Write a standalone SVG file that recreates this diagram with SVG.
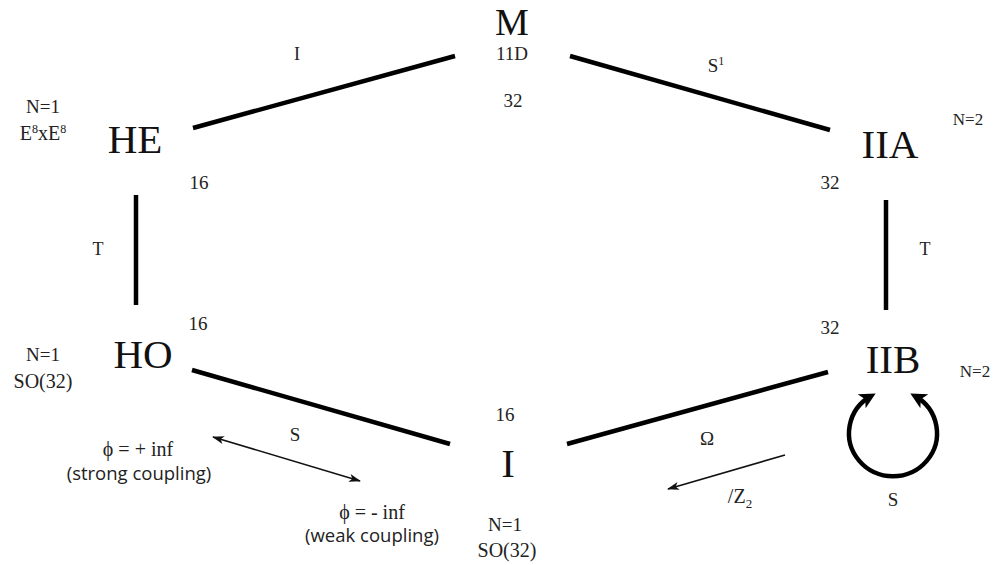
<svg xmlns="http://www.w3.org/2000/svg" width="993" height="565" viewBox="0 0 993 565">
<defs>
<style>
.big{font-family:"Liberation Serif","Times New Roman",serif;font-size:41px;fill:#111;text-anchor:middle}
.sm{font-family:"Liberation Serif","Times New Roman",serif;font-size:19px;fill:#222;text-anchor:middle}
.lab{font-family:"Liberation Serif","Times New Roman",serif;font-size:20px;fill:#222;text-anchor:middle}
.sans{font-family:"Open Sans","Liberation Sans",sans-serif;font-size:18.5px;font-weight:500;fill:#222;text-anchor:middle}
.edge{stroke:#000;stroke-width:4.5;fill:none}
.thin{stroke:#111;stroke-width:1.6;fill:none}
</style>
<marker id="ah" viewBox="0 0 12 8" refX="11" refY="4" markerWidth="12" markerHeight="8" markerUnits="userSpaceOnUse" orient="auto-start-reverse">
<path d="M0,0 L12,4 L0,8 L3,4 Z" fill="#111"/>
</marker>
<marker id="ahb" viewBox="0 0 12 12" refX="8" refY="6" markerWidth="16" markerHeight="16" markerUnits="userSpaceOnUse" orient="auto-start-reverse">
<path d="M0,0 L12,6 L0,12 L3,6 Z" fill="#000"/>
</marker>
</defs>
<g id="connectors">
<line class="edge" x1="193" y1="128" x2="455" y2="56"/>
<line class="edge" x1="570" y1="56" x2="830" y2="130"/>
<line class="edge" x1="136" y1="195" x2="136" y2="305"/>
<line class="edge" x1="886" y1="200" x2="886" y2="310"/>
<line class="edge" x1="192" y1="370" x2="450" y2="444"/>
<line class="edge" x1="567" y1="444" x2="828" y2="372"/>
<line class="thin" x1="213" y1="437" x2="360" y2="481" marker-start="url(#ah)" marker-end="url(#ah)"/>
<line class="thin" x1="785" y1="455" x2="668" y2="489" marker-end="url(#ah)"/>
<path class="edge" d="M915,396 A44 43 0 1 1 871,396" marker-start="url(#ahb)" marker-end="url(#ahb)"/>
<text class="sm" x="297" y="60" style="font-size:18px">I</text>
<text class="sm" x="716" y="72">S<tspan font-size="12" dy="-7">1</tspan></text>
<text class="sm" x="98" y="255" style="font-size:18px">T</text>
<text class="sm" x="925" y="255" style="font-size:18px">T</text>
<text class="sm" x="295" y="441">S</text>
<text class="sm" x="707" y="445">Ω</text>
<text class="lab" x="740" y="503">/Z<tspan font-size="13" dy="5">2</tspan></text>
<text class="sm" x="893" y="506">S</text>
</g>
<g id="node-M">
<text class="big" x="512" y="35" style="font-size:38px">M</text>
<text class="lab" x="512" y="60" style="font-size:19px">11D</text>
<text class="sm" x="513" y="107">32</text>
</g>
<g id="node-HE">
<text class="big" x="135" y="153">HE</text>
<text class="sm" x="43" y="113">N=1</text>
<text class="lab" x="43" y="140">E<tspan font-size="12" dy="-7">8</tspan><tspan dy="7">xE</tspan><tspan font-size="12" dy="-7">8</tspan></text>
<text class="sm" x="199" y="189">16</text>
</g>
<g id="node-IIA">
<text class="big" x="890" y="158">IIA</text>
<text class="sm" x="968" y="125" style="font-size:17px">N=2</text>
<text class="sm" x="830" y="189">32</text>
</g>
<g id="node-HO">
<text class="big" x="143" y="368">HO</text>
<text class="sm" x="43" y="361">N=1</text>
<text class="lab" x="43" y="388">SO(32)</text>
<text class="sm" x="198" y="330">16</text>
</g>
<g id="node-IIB">
<text class="big" x="893" y="373">IIB</text>
<text class="sm" x="975" y="377" style="font-size:17px">N=2</text>
<text class="sm" x="830" y="334">32</text>
</g>
<g id="node-I">
<text class="big" x="508" y="477">I</text>
<text class="sm" x="505" y="421">16</text>
<text class="sm" x="505" y="531">N=1</text>
<text class="lab" x="507" y="557">SO(32)</text>
</g>
<g id="labels-coupling">
<text class="lab" x="138" y="456">ϕ = + inf</text>
<text class="sans" x="139" y="480">(strong coupling)</text>
<text class="lab" x="372" y="519">ϕ = - inf</text>
<text class="sans" x="372" y="542">(weak coupling)</text>
</g>
</svg>
